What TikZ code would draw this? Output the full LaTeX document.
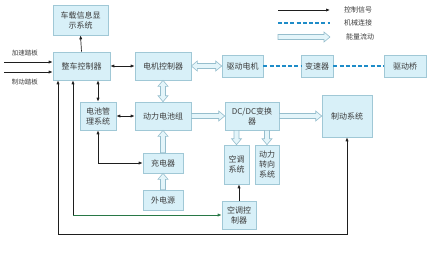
\documentclass[tikz,border=0pt]{standalone}
\usepackage{fontspec}
\newfontfamily\cjk{Noto Sans CJK SC}
\usetikzlibrary{arrows.meta,calc}
\definecolor{boxfill}{RGB}{216,240,248}
\definecolor{boxline}{RGB}{160,200,214}
\definecolor{txt}{RGB}{60,60,60}
\definecolor{efill}{RGB}{228,245,250}
\definecolor{eline}{RGB}{150,190,205}
\definecolor{mechc}{RGB}{30,140,200}
\definecolor{ctrlc}{RGB}{30,30,30}
\definecolor{greenc}{RGB}{40,120,70}
% energy-flow block arrows (axis aligned)
\newcommand\ER[2]{\draw[energy] let \p1=(#1), \p2=(#2) in
  (\x1,\y1+2.5pt) -- (\x2-6pt,\y1+2.5pt) -- (\x2-6pt,\y1+5pt) -- (\x2,\y1)
  -- (\x2-6pt,\y1-5pt) -- (\x2-6pt,\y1-2.5pt) -- (\x1,\y1-2.5pt) -- cycle;}
\newcommand\ELR[2]{\draw[energy] let \p1=(#1), \p2=(#2) in
  (\x1,\y1) -- (\x1+6pt,\y1+5pt) -- (\x1+6pt,\y1+2.5pt) -- (\x2-6pt,\y1+2.5pt)
  -- (\x2-6pt,\y1+5pt) -- (\x2,\y1) -- (\x2-6pt,\y1-5pt) -- (\x2-6pt,\y1-2.5pt)
  -- (\x1+6pt,\y1-2.5pt) -- (\x1+6pt,\y1-5pt) -- cycle;}
% up: #1 lower point, #2 upper point (head at #2)
\newcommand\EU[2]{\draw[energy] let \p1=(#1), \p2=(#2) in
  (\x1-2.5pt,\y1) -- (\x1-2.5pt,\y2-6pt) -- (\x1-5pt,\y2-6pt) -- (\x1,\y2)
  -- (\x1+5pt,\y2-6pt) -- (\x1+2.5pt,\y2-6pt) -- (\x1+2.5pt,\y1) -- cycle;}
% down: #1 upper point, #2 lower point (head at #2)
\newcommand\ED[2]{\draw[energy] let \p1=(#1), \p2=(#2) in
  (\x1-2.5pt,\y1) -- (\x1-2.5pt,\y2+6pt) -- (\x1-5pt,\y2+6pt) -- (\x1,\y2)
  -- (\x1+5pt,\y2+6pt) -- (\x1+2.5pt,\y2+6pt) -- (\x1+2.5pt,\y1) -- cycle;}
% double vertical: #1 upper, #2 lower
\newcommand\EUD[2]{\draw[energy] let \p1=(#1), \p2=(#2) in
  (\x1,\y1) -- (\x1+5pt,\y1-6pt) -- (\x1+2.5pt,\y1-6pt) -- (\x1+2.5pt,\y2+6pt)
  -- (\x1+5pt,\y2+6pt) -- (\x1,\y2) -- (\x1-5pt,\y2+6pt) -- (\x1-2.5pt,\y2+6pt)
  -- (\x1-2.5pt,\y1-6pt) -- (\x1-5pt,\y1-6pt) -- cycle;}
\begin{document}
\begin{tikzpicture}[x=1pt,y=-1pt,
  box/.style={draw=boxline,fill=boxfill,line width=0.6pt,inner sep=0pt,align=center,
    text=txt,font=\cjk\fontsize{8}{10}\selectfont},
  lbl/.style={inner sep=0pt,text=txt,font=\cjk\fontsize{6.5}{8}\selectfont},
  energy/.style={draw=eline,fill=efill,line width=0.6pt,line join=miter},
  ctrl/.style={draw=ctrlc,line width=0.7pt,arrows={[length=4pt,width=3.2pt]},>={Latex[length=4pt,width=3.2pt]}},
  ctrlg/.style={ctrl,draw=greenc},
  mech/.style={draw=mechc,line width=2.2pt,dash pattern=on 4pt off 2.2pt}]
\useasboundingbox (0,0) rectangle (436,258);
% boxes
\node[box,minimum width=55pt,minimum height=30pt] (info) at (80.5,20) {车载信息显\\示系统};
\node[box,minimum width=57pt,minimum height=28pt] (vcu) at (81.5,66) {整车控制器};
\node[box,minimum width=56pt,minimum height=28pt] (mc) at (163,66) {电机控制器};
\node[box,minimum width=41pt,minimum height=22pt] (motor) at (242.5,66) {驱动电机};
\node[box,minimum width=32pt,minimum height=22pt] (gear) at (317,66) {变速器};
\node[box,minimum width=42pt,minimum height=22pt] (axle) at (405,66) {驱动桥};
\node[box,minimum width=36pt,minimum height=28pt] (bms) at (98,116) {电池管\\理系统};
\node[box,minimum width=56pt,minimum height=28pt] (bat) at (163,116) {动力电池组};
\node[box,minimum width=54pt,minimum height=28pt] (dcdc) at (252,116) {DC/DC变换\\器};
\node[box,minimum width=50pt,minimum height=42pt] (brake) at (347,116) {制动系统};
\node[box,minimum width=40pt,minimum height=20pt] (chg) at (163,163) {充电器};
\node[box,minimum width=40pt,minimum height=20pt] (ext) at (163,200) {外电源};
\node[box,minimum width=25pt,minimum height=39pt] (ac) at (236.5,164.5) {空调\\系统};
\node[box,minimum width=24pt,minimum height=39pt] (ps) at (267,164.5) {动力\\转向\\系统};
\node[box,minimum width=34pt,minimum height=28pt] (acc) at (239,215) {空调控\\制器};
% pedal inputs
\node[lbl] (acl) at (25,53) {加速踏板};
\node[lbl] (brl) at (25,82) {制动踏板};
\coordinate (ped1) at (4,62);
\coordinate (ped2) at (4,72);
\draw[ctrl,->] (ped1) -- (ped1 -| vcu.west);
\draw[ctrl,->] (ped2) -- (ped2 -| vcu.west);
% control connectors
\draw[ctrl,->] (vcu.north) -- (info.south);
\draw[ctrl,<->] (vcu.east) -- (mc.west);
\draw[ctrl,<->] (vcu.south -| bms.north) -- (bms.north);
\draw[ctrl,<->] (bms.east) -- (bat.west);
\draw[ctrl,<->] (bms.south) |- (chg.west);
\coordinate (c1) at (58,234);
\draw[ctrl,<->] (c1 |- vcu.south) -- (c1) -| (brake.south);
\coordinate (c2) at (73,215);
\draw[ctrl,<-] (c2 |- vcu.south) -- (c2);
\draw[ctrlg,->] (c2) -- (acc.west);
\draw[ctrl,->] (acc.north) -- (acc.north |- ac.south);
% mechanical
\draw[mech] (motor.east) -- (gear.west);
\draw[mech] (gear.east) -- (axle.west);
% energy flow
\ELR{mc.east}{motor.west}
\EUD{mc.south}{bat.north}
\ER{bat.east}{dcdc.west}
\ER{dcdc.east}{brake.west}
\EU{chg.north}{bat.south}
\EU{ext.north}{chg.south}
\ED{dcdc.south -| ac.north}{ac.north}
\ED{dcdc.south -| ps.north}{ps.north}
% legend
\coordinate (la1) at (278,10); \coordinate (lb1) at (330,10);
\coordinate (la2) at (278,23); \coordinate (lb2) at (330,23);
\coordinate (la3) at (278,37); \coordinate (lb3) at (330,37);
\draw[ctrl,->] (la1) -- (lb1);
\draw[mech] (la2) -- (lb2);
\ER{la3}{lb3}
\node[lbl,anchor=west,font=\cjk\fontsize{7}{8}\selectfont] (t1) at (344,10) {控制信号};
\node[lbl,anchor=west,font=\cjk\fontsize{7}{8}\selectfont] (t2) at (344,23) {机械连接};
\node[lbl,anchor=west,font=\cjk\fontsize{7}{8}\selectfont] (t3) at (346,37) {能量流动};
\end{tikzpicture}
\end{document}
